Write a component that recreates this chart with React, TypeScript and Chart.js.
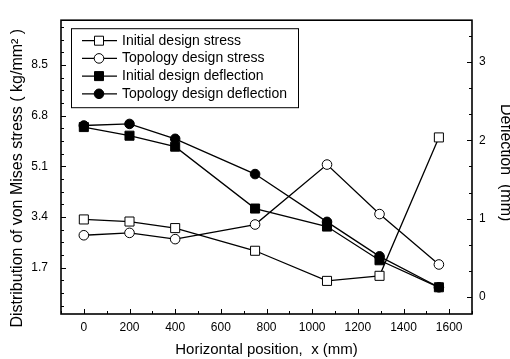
import React, { useEffect, useRef } from "react";
import { Chart, registerables } from "chart.js";

Chart.register(...registerables);

// ---- data ----
const positions = [0, 200, 400, 750, 1065, 1295, 1555];
const initialStress = [3.32, 3.25, 3.03, 2.27, 1.26, 1.43, 6.07];
const topologyStress = [2.79, 2.87, 2.66, 3.15, 5.16, 3.5, 1.81];
const initialDeflection = [2.17, 2.06, 1.92, 1.13, 0.9, 0.47, 0.125];
const topologyDeflection = [2.19, 2.21, 2.02, 1.57, 0.96, 0.52, 0.125];

const seriesLabels = [
  "Initial design stress",
  "Topology design stress",
  "Initial design deflection",
  "Topology design deflection",
];

const stressTicks = [1.7, 3.4, 5.1, 6.8, 8.5];
const deflectionTicks = [0, 1, 2, 3];
const xTicks = [0, 200, 400, 600, 800, 1000, 1200, 1400, 1600];

const xTitle = "Horizontal position,  x (mm)";
const yTitle = "Distribution of von Mises stress ( kg/mm\u00B2 )     ";
const y2Title = "Deflection  (mm)  ";

const FONT = "'Liberation Sans', Arial, Helvetica, sans-serif";

const toPts = (ys: number[]) => positions.map((x, i) => ({ x, y: ys[i] }));

const framePlugin = {
  id: "frameAndLegend",
  afterDraw(chart: any) {
    const { ctx, chartArea: a, scales } = chart;
    ctx.save();
    ctx.strokeStyle = "#000";
    ctx.lineWidth = 1.6;
    ctx.strokeRect(a.left, a.top, a.right - a.left, a.bottom - a.top);

    ctx.lineWidth = 1;
    ctx.beginPath();
    // x ticks (inside)
    const xs = scales.x;
    for (let v = -100; v <= 1700; v += 100) {
      const px = Math.round(xs.getPixelForValue(v)) + 0.5;
      const len = v % 200 === 0 ? 5 : 3;
      ctx.moveTo(px, a.bottom);
      ctx.lineTo(px, a.bottom - len);
    }
    // left ticks
    const ys = scales.y;
    for (let i = 0; i <= 24; i++) {
      const v = i * 0.425;
      if (v < ys.min || v > ys.max) continue;
      const py = Math.round(ys.getPixelForValue(v)) + 0.5;
      const len = i % 4 === 0 ? 5 : 3;
      ctx.moveTo(a.left, py);
      ctx.lineTo(a.left + len, py);
    }
    // right ticks
    const y2 = scales.y2;
    for (let i = -1; i <= 11; i++) {
      const v = i / 3;
      if (v < y2.min || v > y2.max) continue;
      const py = Math.round(y2.getPixelForValue(v)) + 0.5;
      const len = i % 3 === 0 ? 5 : 3;
      ctx.moveTo(a.right, py);
      ctx.lineTo(a.right - len, py);
    }
    ctx.stroke();

    // legend
    const lx = a.left + 10;
    const ly = a.top + 8;
    const lw = 227;
    const lh = 79;
    ctx.fillStyle = "#fff";
    ctx.fillRect(lx, ly, lw, lh);
    ctx.lineWidth = 1;
    ctx.strokeRect(lx + 0.5, ly + 0.5, lw, lh);
    ctx.font = `14px ${FONT}`;
    ctx.textBaseline = "middle";
    ctx.textAlign = "left";
    chart.data.datasets.forEach((ds: any, i: number) => {
      const cy = ly + 12.5 + i * 17.7;
      const x0 = lx + 11;
      const x1 = lx + 46;
      const mx = lx + 28;
      ctx.strokeStyle = "#000";
      ctx.lineWidth = 1.3;
      ctx.beginPath();
      ctx.moveTo(x0, cy);
      ctx.lineTo(x1, cy);
      ctx.stroke();
      ctx.fillStyle = ds.pointBackgroundColor;
      ctx.lineWidth = 1;
      ctx.beginPath();
      if (ds.pointStyle === "rect") {
        ctx.rect(mx - 4.5, cy - 4.5, 9, 9);
      } else {
        ctx.arc(mx, cy, 4.8, 0, Math.PI * 2);
      }
      ctx.fill();
      ctx.stroke();
      ctx.fillStyle = "#000";
      ctx.fillText(ds.label, lx + 51, cy);
    });
    ctx.restore();
  },
};

function makeDataset(label: string, ys: number[], axis: string, style: string, filled: boolean) {
  return {
    label,
    data: toPts(ys),
    yAxisID: axis,
    borderColor: "#000",
    borderWidth: 1.3,
    pointStyle: style,
    pointRadius: style === "rect" ? 6.4 : 4.8,
    pointBorderWidth: 1,
    pointBorderColor: "#000",
    pointBackgroundColor: filled ? "#000" : "#fff",
    tension: 0,
    fill: false,
  };
}

export default function App() {
  const ref = useRef<HTMLCanvasElement | null>(null);
  useEffect(() => {
    if (!ref.current) return;
    const chart = new Chart(ref.current, {
      type: "line",
      data: {
        datasets: [
          makeDataset(seriesLabels[0], initialStress, "y", "rect", false),
          makeDataset(seriesLabels[1], topologyStress, "y", "circle", false),
          makeDataset(seriesLabels[2], initialDeflection, "y2", "rect", true),
          makeDataset(seriesLabels[3], topologyDeflection, "y2", "circle", true),
        ] as any,
      },
      options: {
        animation: false,
        responsive: false,
        layout: { padding: { top: 14, left: 0, right: 0, bottom: 0 } },
        plugins: { legend: { display: false }, tooltip: { enabled: false } },
        scales: {
          x: {
            type: "linear",
            min: -100,
            max: 1700,
            grid: { display: false, drawTicks: false },
            border: { display: false },
            afterBuildTicks: (s: any) => {
              s.ticks = xTicks.map((v) => ({ value: v }));
            },
            afterFit: (s: any) => {
              s.height = 45;
            },
            ticks: {
              color: "#000",
              font: { family: FONT, size: 12 },
              padding: 6,
              maxRotation: 0,
              callback: (v: any) => String(v),
            },
            title: {
              display: true,
              text: xTitle,
              color: "#000",
              font: { family: FONT, size: 15 },
              padding: { top: 0, bottom: 0 },
            },
          },
          y: {
            type: "linear",
            position: "left",
            min: 0.15,
            max: 10.0,
            grid: { display: false, drawTicks: false },
            border: { display: false },
            afterBuildTicks: (s: any) => {
              s.ticks = stressTicks.map((v) => ({ value: v }));
            },
            afterFit: (s: any) => {
              s.width = 61;
            },
            ticks: {
              color: "#000",
              font: { family: FONT, size: 12 },
              padding: 13,
              callback: (v: any) => Number(v).toFixed(1),
            },
            title: {
              display: true,
              text: yTitle,
              color: "#000",
              font: { family: FONT, size: 16 },
              padding: { top: 8, bottom: 0 },
            },
          },
          y2: {
            type: "linear",
            position: "right",
            min: -0.216,
            max: 3.534,
            grid: { display: false, drawTicks: false },
            border: { display: false },
            afterBuildTicks: (s: any) => {
              s.ticks = deflectionTicks.map((v) => ({ value: v }));
            },
            afterFit: (s: any) => {
              s.width = 38;
            },
            ticks: {
              color: "#000",
              font: { family: FONT, size: 12 },
              padding: 7,
              callback: (v: any) => String(v),
            },
            title: {
              display: true,
              text: y2Title,
              color: "#000",
              font: { family: FONT, size: 16, lineHeight: 1 },
              padding: { top: -3, bottom: 0 },
            },
          },
        },
      },
      plugins: [framePlugin],
    } as any);
    return () => chart.destroy();
  }, []);
  return (
    <div style={{ position: "absolute", left: 0, top: 0, width: 510, height: 359, background: "#fff" }}>
      <canvas ref={ref} width={510} height={359} style={{ display: "block" }} />
    </div>
  );
}
